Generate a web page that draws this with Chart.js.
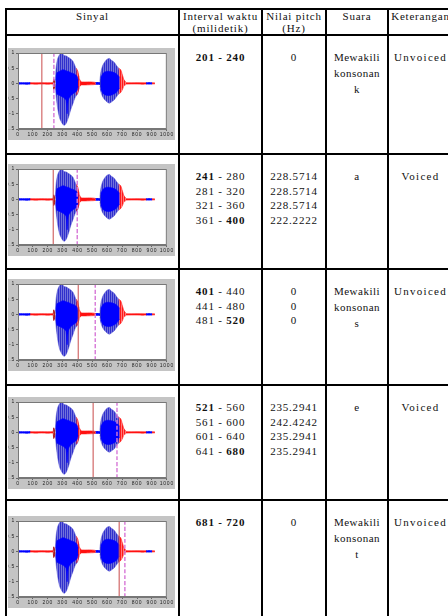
<!DOCTYPE html>
<html>
<head>
<meta charset="utf-8">
<script src="https://cdn.jsdelivr.net/npm/chart.js@4.4.0/dist/chart.umd.min.js"></script>
<style>
html, body { margin: 0; padding: 0; background: #fff; width: 448px; height: 616px; overflow: hidden; }
#tbl { position: absolute; left: 5px; top: 8px; width: 447px; border-collapse: collapse; table-layout: fixed;
  font-family: "Liberation Serif", "Times New Roman", serif; font-size: 11px; color: #111; }
#tbl td, #tbl th { border: 2px solid #000; padding: 0; vertical-align: top; text-align: center; letter-spacing: 0.8px; }
#tbl th { font-weight: normal; line-height: 12px; }
#tbl td.num { line-height: 14.5px; padding-top: 14px; }
#tbl td.snd { line-height: 16px; padding-top: 13px; letter-spacing: 0.5px; }
#tbl td.ket { line-height: 14.5px; padding-top: 14px; letter-spacing: 1.3px; }
.frame { width: 167px; height: 92px; margin-left: 1px; background: #c4c4c4; }
</style>
</head>
<body>
<table id="tbl">
  <colgroup><col style="width:173px"><col style="width:83px"><col style="width:64px"><col style="width:62px"><col style="width:65px"></colgroup>
  <thead>
    <tr style="height:25px"><th>Sinyal</th><th>Interval waktu<br>(milidetik)</th><th>Nilai pitch<br>(Hz)</th><th>Suara</th><th>Keterangan</th></tr>
  </thead>
  <tbody id="rows"></tbody>
</table>
<script>
// table text
const intervals = [
  ['<b>201 - 240</b>'],
  ['<b>241</b> - 280', '281 - 320', '321 - 360', '361 - <b>400</b>'],
  ['<b>401</b> - 440', '441 - 480', '481 - <b>520</b>'],
  ['<b>521</b> - 560', '561 - 600', '601 - 640', '641 - <b>680</b>'],
  ['<b>681 - 720</b>']
];
const pitches = [
  ['0'],
  ['228.5714', '228.5714', '228.5714', '222.2222'],
  ['0', '0', '0'],
  ['235.2941', '242.4242', '235.2941', '235.2941'],
  ['0']
];
const sounds = [['Mewakili', 'konsonan', 'k'], ['a'], ['Mewakili', 'konsonan', 's'], ['e'], ['Mewakili', 'konsonan', 't']];
const notes = ['Unvoiced', 'Voiced', 'Unvoiced', 'Voiced', 'Unvoiced'];

// frame markers (sample index) for each row
const markStart = [160, 237, 405, 505, 680];
const markEnd = [241, 398, 519, 665, 718];

// axis ticks
const xTicks = [0, 100, 200, 300, 400, 500, 600, 700, 800, 900, 1000];
const yTicks = [1, 0.5, 0, -0.5, -1, -1.5];

// signal envelope: [sample, top, bottom]
const leadBlue = [[0, .025, -.025], [30, .02, -.02], [60, .02, -.025], [82, .025, -.02]];
const quietRed1 = [[80, .025, -.02], [120, .02, -.025], [160, .025, -.02], [200, .02, -.025], [238, .025, -.02]];
const click = [[237, .03, -.03], [240, .15, -.2], [244, .1, -.16], [248, .03, -.03]];
const vowelA = [[250, .05, -.05], [256, .5, -.4], [266, .8, -.8], [280, .95, -1.15], [295, .98, -1.3], [310, .92, -1.38],
  [325, .9, -1.3], [340, .85, -1.1], [355, .8, -.85], [370, .72, -.65], [385, .55, -.45], [400, .35, -.35], [410, .2, -.15]];
const vowelACore = [[254, .1, -.1], [262, .35, -.35], [280, .4, -.4], [300, .45, -.45], [322, .42, -.55], [330, .4, -1.0],
  [338, .4, -.55], [355, .35, -.4], [375, .32, -.32], [395, .25, -.25], [405, .1, -.1]];
const tailA = [[392, .5, -.38], [402, .4, -.3], [412, .15, -.12], [424, .05, -.05]];
const quietRed2 = [[420, .05, -.05], [450, .045, -.05], [480, .05, -.045], [510, .04, -.04], [522, .03, -.03]];
const gapBlue = [[520, .03, -.03], [540, .03, -.03], [552, .04, -.04]];
const vowelE = [[550, .08, -.08], [558, .4, -.3], [570, .6, -.45], [585, .72, -.55], [600, .8, -.62], [615, .82, -.65],
  [630, .75, -.6], [645, .7, -.55], [660, .6, -.45], [675, .5, -.35], [685, .3, -.2]];
const vowelECore = [[556, .2, -.2], [575, .35, -.35], [600, .4, -.4], [630, .38, -.38], [660, .32, -.3], [683, .2, -.15]];
const tailE = [[676, .5, -.35], [690, .45, -.3], [700, .3, -.22], [712, .12, -.08], [725, .04, -.04]];
const quietRed3 = [[720, .025, -.025], [760, .02, -.02], [800, .025, -.02], [840, .02, -.025], [862, .02, -.02]];
const trailBlue = [[860, .02, -.02], [880, .025, -.02], [900, .02, -.02]];
const trailRed = [[900, .02, -.02], [920, .015, -.015]];

// vertical stripe fill so the voiced parts look like a dense waveform
function stripes(dark, light) {
  const c = document.createElement('canvas');
  c.width = 2; c.height = 4;
  const g = c.getContext('2d');
  g.fillStyle = light; g.fillRect(0, 0, 2, 4);
  g.fillStyle = dark; g.fillRect(0, 0, 1, 4);
  return g.createPattern(c, 'repeat');
}
const BLUE = stripes('#3030cc', '#7272dc');
const BLUE_LINE = 'rgba(80,80,210,0.9)';
const CORE = '#0000ff';
const RED = '#ff1010';
const RED_FILL = stripes('#ff1a1a', '#ff7a7a');

function band(pts, line, fillColor, order, w) {
  return [
    { data: pts.map(p => ({ x: p[0], y: p[1] })), borderColor: line, backgroundColor: fillColor, borderWidth: w, fill: '+1', order: order },
    { data: pts.map(p => ({ x: p[0], y: p[2] })), borderColor: line, borderWidth: w, fill: false, order: order }
  ];
}

const frameTop = [12, 9, 9, 11, 15];
const tbody = document.getElementById('rows');
const rowHeights = [119, 115, 116, 115, 120];

for (let i = 0; i < 5; i++) {
  const tr = document.createElement('tr');
  tr.style.height = rowHeights[i] + 'px';
  tr.innerHTML =
    `<td><div class="frame" style="margin-top:${frameTop[i]}px"><canvas id="c${i}" width="167" height="92"></canvas></div></td>` +
    `<td class="num">${intervals[i].join('<br>')}</td>` +
    `<td class="num">${pitches[i].join('<br>')}</td>` +
    `<td class="snd">${sounds[i].join('<br>')}</td>` +
    `<td class="ket">${notes[i]}</td>`;
  tbody.appendChild(tr);
}

const whiteArea = {
  id: 'whiteArea',
  beforeDraw(chart) {
    const a = chart.chartArea, ctx = chart.ctx;
    ctx.save();
    ctx.fillStyle = '#fff';
    ctx.fillRect(a.left, a.top, a.right - a.left, a.bottom - a.top);
    ctx.restore();
  },
  afterDraw(chart) {
    const a = chart.chartArea, ctx = chart.ctx;
    ctx.save();
    ctx.strokeStyle = '#777';
    ctx.lineWidth = 1;
    ctx.strokeRect(a.left + 0.5, a.top + 0.5, a.right - a.left - 1, a.bottom - a.top - 1);
    ctx.restore();
  }
};

for (let i = 0; i < 5; i++) {
  const datasets = [
    { data: [{ x: markStart[i], y: 1 }, { x: markStart[i], y: -1.5 }], borderColor: 'rgba(200,70,70,0.75)', borderWidth: 1.3, fill: false, order: 0 },
    { data: [{ x: markEnd[i], y: 1 }, { x: markEnd[i], y: -1.5 }], borderColor: 'rgba(215,120,215,0.95)', borderWidth: 1.5, borderDash: [4, 2], fill: false, order: 0 },
    ...band(vowelACore, CORE, CORE, 1, 0.6),
    ...band(vowelECore, CORE, CORE, 1, 0.6),
    ...band(tailA, RED, RED_FILL, 2, 0.6),
    ...band(tailE, RED, RED_FILL, 2, 0.6),
    ...band(vowelA, BLUE_LINE, BLUE, 3, 0.6),
    ...band(vowelE, BLUE_LINE, BLUE, 3, 0.6),
    ...band(click, '#a00000', '#a00000', 2, 0.8),
    ...band(leadBlue, CORE, CORE, 4, 0.9),
    ...band(quietRed1, RED, RED, 4, 0.6),
    ...band(quietRed2, RED, RED, 4, 0.6),
    ...band(gapBlue, CORE, CORE, 4, 0.9),
    ...band(quietRed3, RED, RED, 4, 0.6),
    ...band(trailBlue, CORE, CORE, 4, 0.9),
    ...band(trailRed, RED, RED, 4, 0.6)
  ];
  new Chart(document.getElementById('c' + i), {
    type: 'line',
    data: { datasets: datasets },
    options: {
      responsive: false,
      animation: false,
      devicePixelRatio: 1,
      layout: { padding: { top: 5, right: 5, left: 0, bottom: 0 } },
      elements: { point: { radius: 0 }, line: { tension: 0.25 } },
      plugins: { legend: { display: false }, tooltip: { enabled: false } },
      scales: {
        x: {
          type: 'linear', min: 0, max: 1000,
          afterBuildTicks: s => { s.ticks = xTicks.map(v => ({ value: v })); },
          afterFit: s => { s.height = 11; },
          ticks: { font: { size: 5, family: 'Liberation Sans' }, color: '#222', padding: 1, maxRotation: 0, autoSkip: false, callback: v => String(v) },
          grid: { drawOnChartArea: false, tickLength: 2, color: '#666' },
          border: { color: '#777' }
        },
        y: {
          type: 'linear', min: -1.5, max: 1,
          afterBuildTicks: s => { s.ticks = yTicks.map(v => ({ value: v })); },
          afterFit: s => { s.width = 10; },
          ticks: { font: { size: 5, family: 'Liberation Sans' }, color: '#222', padding: 1, autoSkip: false, callback: v => String(v) },
          grid: { drawOnChartArea: false, tickLength: 2, color: '#666' },
          border: { color: '#777' }
        }
      }
    },
    plugins: [whiteArea]
  });
}
</script>
</body>
</html>
